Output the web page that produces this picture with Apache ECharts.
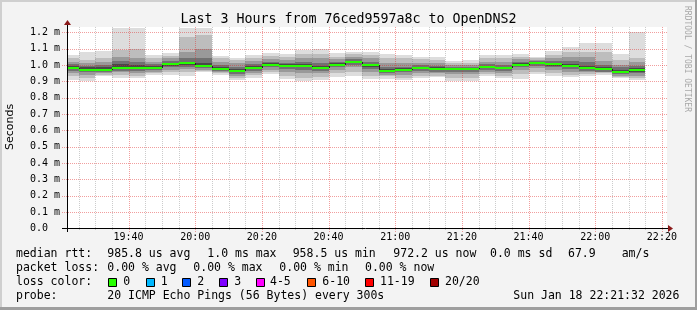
<!DOCTYPE html>
<html>
<head>
<meta charset="utf-8">
<script src="https://cdn.jsdelivr.net/npm/echarts@6/dist/echarts.min.js"></script>
<style>
html,body{margin:0;padding:0;background:#f3f3f3;}
#c{width:697px;height:310px;}
</style>
</head>
<body>
<div id="c"></div>
<script>
// ---- data (ms) ----
const barEnds = ['19:25','19:30','19:35','19:40','19:45','19:50','19:55','20:00','20:05','20:10','20:15','20:20','20:25','20:30','20:35','20:40','20:45','20:50','20:55','21:00','21:05','21:10','21:15','21:20','21:25','21:30','21:35','21:40','21:45','21:50','21:55','22:00','22:05','22:10','22:15'];
const median = [0.984,0.971,0.971,0.984,0.984,0.984,1.008,1.014,0.996,0.978,0.963,0.984,1.002,0.996,0.996,0.984,1.002,1.020,1.000,0.966,0.971,0.983,0.977,0.977,0.977,0.990,0.982,1.002,1.012,1.004,0.994,0.984,0.976,0.959,0.969];
const pMax = [1.061,1.082,1.088,1.224,1.224,1.061,1.071,1.224,1.224,1.055,1.043,1.061,1.071,1.067,1.090,1.096,1.071,1.082,1.078,1.070,1.064,1.049,1.046,1.024,1.031,1.061,1.061,1.067,1.051,1.088,1.112,1.137,1.137,1.068,1.200];
const hi2 = [1.040,1.030,1.040,1.090,1.100,1.040,1.055,1.173,1.186,1.040,1.030,1.045,1.055,1.050,1.070,1.070,1.050,1.065,1.060,1.040,1.040,1.035,1.030,1.012,1.015,1.040,1.040,1.050,1.040,1.060,1.078,1.080,1.080,1.030,1.040];
const hi3 = [1.020,1.010,1.020,1.050,1.040,1.020,1.040,1.080,1.100,1.020,1.010,1.025,1.035,1.030,1.045,1.040,1.035,1.050,1.040,1.010,1.010,1.015,1.010,1.000,1.000,1.020,1.020,1.035,1.030,1.040,1.050,1.050,1.024,1.000,1.020];
const hi4 = [1.005,0.995,1.000,1.025,1.020,1.005,1.025,1.040,1.040,1.000,0.990,1.005,1.020,1.015,1.020,1.010,1.020,1.035,1.020,0.990,0.990,1.000,0.995,0.990,0.990,1.005,1.000,1.020,1.022,1.025,1.025,1.020,1.000,0.985,0.995];
const hi5 = [0.995,0.985,0.985,1.005,1.000,0.995,1.015,1.020,1.010,0.988,0.975,0.993,1.010,1.005,1.005,0.995,1.010,1.027,1.008,0.975,0.980,0.990,0.985,0.983,0.983,0.996,0.990,1.010,1.017,1.012,1.005,0.995,0.985,0.970,0.980];
const lo5 = [0.975,0.962,0.962,0.975,0.975,0.975,0.995,1.000,0.988,0.970,0.955,0.975,0.995,0.985,0.985,0.975,0.993,1.010,0.990,0.958,0.962,0.975,0.970,0.970,0.970,0.982,0.975,0.993,1.005,0.995,0.985,0.975,0.968,0.952,0.960];
const lo4 = [0.965,0.955,0.955,0.965,0.965,0.968,0.985,0.990,0.980,0.962,0.945,0.965,0.985,0.975,0.970,0.965,0.985,1.000,0.978,0.950,0.955,0.965,0.960,0.960,0.960,0.972,0.965,0.985,0.995,0.985,0.975,0.965,0.960,0.945,0.950];
const lo3 = [0.950,0.940,0.948,0.955,0.950,0.960,0.970,0.975,0.970,0.955,0.930,0.952,0.970,0.960,0.950,0.950,0.970,0.985,0.960,0.940,0.940,0.950,0.950,0.945,0.945,0.960,0.950,0.970,0.980,0.970,0.960,0.955,0.955,0.935,0.935];
const lo2 = [0.930,0.920,0.940,0.940,0.935,0.950,0.955,0.955,0.962,0.948,0.920,0.940,0.955,0.935,0.920,0.925,0.950,0.960,0.935,0.930,0.920,0.935,0.935,0.920,0.920,0.945,0.935,0.945,0.960,0.950,0.940,0.945,0.948,0.928,0.920];
const pMin = [0.910,0.902,0.935,0.922,0.918,0.940,0.939,0.935,0.955,0.939,0.908,0.922,0.945,0.914,0.900,0.908,0.929,0.932,0.912,0.915,0.905,0.919,0.924,0.902,0.900,0.933,0.920,0.914,0.945,0.933,0.924,0.933,0.941,0.922,0.905];

const xStart = '19:21:32', xEnd = '22:21:32';
const stepMin = 5;
const yTicks = [0.1,0.2,0.3,0.4,0.5,0.6,0.7,0.8,0.9,1.0,1.1,1.2];
const majorX = ['19:40','20:00','20:20','20:40','21:00','21:20','21:40','22:00','22:20'];
const minorX = ['19:25','19:30','19:35','19:45','19:50','19:55','20:05','20:10','20:15','20:25','20:30','20:35','20:45','20:50','20:55','21:05','21:10','21:15','21:25','21:30','21:35','21:45','21:50','21:55','22:05','22:10','22:15'];

const title = 'Last 3 Hours from 76ced9597a8c to OpenDNS2';
const lossLabels = ['0','1','2','3','4-5','6-10','11-19','20/20'];
const lossColors = ['#26ff00','#00b8ff','#0059ff','#7e00ff','#ff00ff','#ff5500','#ff0000','#a10000'];

// ---- helpers ----
function toMin(s){const p=s.split(':').map(Number);return p[0]*60+p[1]+(p[2]||0)/60;}
function pad(n){return (n<10?'0':'')+n;}
const xMin = toMin(xStart), xMax = toMin(xEnd);
const bandColors = ['#dddddd','#bdbdbd','#999999','#717171','#484848'];
const MONO = '"DejaVu Sans Mono", monospace';

const smokeData = barEnds.map((t,i)=>{
  const e = toMin(t);
  return [e-stepMin, e, pMax[i], hi2[i], hi3[i], hi4[i], hi5[i], lo5[i], lo4[i], lo3[i], lo2[i], pMin[i]];
});
const medData = barEnds.map((t,i)=>{
  const e = toMin(t);
  return [e-stepMin, e, median[i], i>0?median[i-1]:median[i]];
});
const vGrid = minorX.map(t=>[toMin(t),0,0]).concat(majorX.map(t=>[toMin(t),0,1]));
const hGrid = yTicks.map(v=>[xMin,v]);

const chart = echarts.init(document.getElementById('c'));

// legend texts
const L = [];
function txt(s,x,y,extra){L.push(Object.assign({type:'text',x:x,y:y,style:{text:s,fill:'#000',font:'11.5px '+MONO,textVerticalAlign:'middle'}},extra||{}));}
const r1=254.5, r2=268.5, r3=282.3, r4=296.5;
txt('median rtt:',16,r1); txt('985.8 us avg',107.3,r1); txt('1.0 ms max',207.3,r1); txt('958.5 us min',292.7,r1);
txt('972.2 us now',393.3,r1); txt('0.0 ms sd',490,r1); txt('67.9',568,r1); txt('am/s',621.7,r1);
txt('packet loss:',16,r2); txt('0.00 % avg',107.3,r2); txt('0.00 % max',193.3,r2); txt('0.00 % min',279.3,r2); txt('0.00 % now',365,r2);
txt('loss color:',16,r3);
const boxX=[108.3,145.7,182.3,219,256,307.3,365,430];
const labX=[123.3,160.7,197.3,234.3,270,322.3,380,445];
lossLabels.forEach((l,i)=>{
  L.push({type:'rect',shape:{x:Math.round(boxX[i])+0.5,y:278.5,width:8,height:8},style:{fill:lossColors[i],stroke:'#000',lineWidth:1}});
  txt(l,labX[i],r3);
});
txt('probe:',16,r4); txt('20 ICMP Echo Pings (56 Bytes) every 300s',107.3,r4); txt('Sun Jan 18 22:21:32 2026',513.3,r4);

const graphics = [
  // frame shading
  {type:'rect',shape:{x:0,y:0,width:697,height:2},style:{fill:'#cfcfcf'},z:-5},
  {type:'rect',shape:{x:0,y:0,width:2,height:310},style:{fill:'#cfcfcf'},z:-5},
  {type:'rect',shape:{x:0,y:307,width:697,height:3},style:{fill:'#9e9e9e'},z:-5},
  {type:'rect',shape:{x:695,y:0,width:2,height:310},style:{fill:'#9e9e9e'},z:-5},
  // canvas
  {type:'rect',shape:{x:67,y:27,width:600,height:201.5},style:{fill:'#ffffff'},z:-5},
  // title
  {type:'text',x:348.5,y:19.5,style:{text:title,fill:'#000',font:'13.3px '+MONO,textAlign:'center',textVerticalAlign:'middle'}},
  // y name
  {type:'text',x:10,y:127,rotation:Math.PI/2,style:{text:'Seconds',fill:'#000',font:'11px "DejaVu Sans", sans-serif',textAlign:'center',textVerticalAlign:'middle'}},
  // watermark
  {type:'text',x:687,y:59,rotation:-Math.PI/2,style:{text:'RRDTOOL / TOBI OETIKER',fill:'#a8a8a8',font:'8px '+MONO,textAlign:'center',textVerticalAlign:'middle'}},
  // axis lines + arrows
  {type:'line',shape:{x1:62,y1:228.5,x2:669,y2:228.5},style:{stroke:'#000',lineWidth:1},z:50},
  {type:'line',shape:{x1:67.5,y1:232,x2:67.5,y2:24},style:{stroke:'#000',lineWidth:1},z:50},
  {type:'polygon',shape:{points:[[668,225],[668,232],[673,228.5]]},style:{fill:'#8b1a1a'},z:51},
  {type:'polygon',shape:{points:[[64,25],[71,25],[67.5,20]]},style:{fill:'#8b1a1a'},z:51}
].concat(L);

chart.setOption({
  animation:false,
  backgroundColor:'#f3f3f3',
  grid:{left:67,right:30,top:32.3,bottom:81.7,containLabel:false},
  xAxis:{type:'value',min:xMin,max:xMax,minInterval:20,maxInterval:20,splitNumber:9,
    axisLine:{show:false},axisTick:{show:false},splitLine:{show:false},
    axisLabel:{showMinLabel:false,showMaxLabel:false,margin:4,color:'#000',fontFamily:'DejaVu Sans Mono',fontSize:10,
      formatter:function(v){if(Math.abs(v-Math.round(v))>1e-6)return '';const h=Math.floor(v/60),m=Math.round(v%60);return pad(h)+':'+pad(m);}}},
  yAxis:{type:'value',min:0,max:1.2,interval:0.1,
    axisLine:{show:false},axisTick:{show:false},splitLine:{show:false},
    axisLabel:{align:'left',margin:37,color:'#000',fontFamily:'DejaVu Sans Mono',fontSize:10,
      formatter:function(v){return v===0?'0.0':v.toFixed(1)+' m';}}},
  graphic:{elements:graphics},
  series:[
    {type:'custom',name:'smoke',z:2,clip:false,data:smokeData,encode:{x:[0,1],y:[2,11]},
      renderItem:function(params,api){
        const cs=params.coordSys, left=cs.x, right=cs.x+cs.width;
        const s=api.value(0), e=api.value(1);
        const ch=[];
        for(let k=0;k<5;k++){
          const p1=api.coord([s,api.value(2+k)]), p2=api.coord([e,api.value(11-k)]);
          const x0=Math.round(Math.max(p1[0],left)), x1=Math.round(Math.min(p2[0],right));
          const y0=Math.round(p1[1]), y1=Math.round(p2[1]);
          ch.push({type:'rect',shape:{x:x0,y:y0,width:x1-x0,height:y1-y0},style:{fill:bandColors[k]}});
        }
        return {type:'group',children:ch};
      }},
    {type:'custom',name:'hgrid',z:3,clip:false,silent:true,data:hGrid,encode:{x:0,y:1},
      renderItem:function(params,api){
        const cs=params.coordSys;
        const p=api.coord([api.value(0),api.value(1)]);
        const y=Math.round(p[1])+0.5;
        return {type:'line',shape:{x1:cs.x-5,y1:y,x2:cs.x+cs.width,y2:y},style:{stroke:'rgba(225,40,40,0.45)',lineWidth:1,lineDash:[1,1]}};
      }},
    {type:'custom',name:'vgrid',z:3,clip:false,silent:true,data:vGrid,encode:{x:0,y:1},
      renderItem:function(params,api){
        const cs=params.coordSys;
        const p=api.coord([api.value(0),0]);
        const x=Math.round(p[0])+0.5;
        const major=api.value(2)===1;
        return {type:'line',shape:{x1:x,y1:27,x2:x,y2:cs.y+cs.height+(major?4:2)},
          style:{stroke:major?'rgba(225,40,40,0.45)':'rgba(128,128,128,0.4)',lineWidth:1,lineDash:[1,1]}};
      }},
    {type:'custom',name:'median',z:4,clip:false,data:medData,encode:{x:[0,1],y:2},
      renderItem:function(params,api){
        const cs=params.coordSys, left=cs.x;
        const s=api.value(0), e=api.value(1);
        const p1=api.coord([s,api.value(2)]), p2=api.coord([e,api.value(2)]);
        const pp=api.coord([s,api.value(3)]);
        const x0=Math.round(Math.max(p1[0],left)), x1=Math.round(p2[0]);
        const y=Math.round(p1[1]);
        const ch=[];
        if(params.dataIndex>0 && Math.round(pp[1])!==y){
          ch.push({type:'line',shape:{x1:x0+0.5,y1:Math.round(pp[1]),x2:x0+0.5,y2:y},style:{stroke:'#202020',lineWidth:1}});
        }
        ch.push({type:'rect',shape:{x:x0,y:y-1,width:x1-x0,height:2},style:{fill:lossColors[0]}});
        return {type:'group',children:ch};
      }}
  ]
});
</script>
</body>
</html>
